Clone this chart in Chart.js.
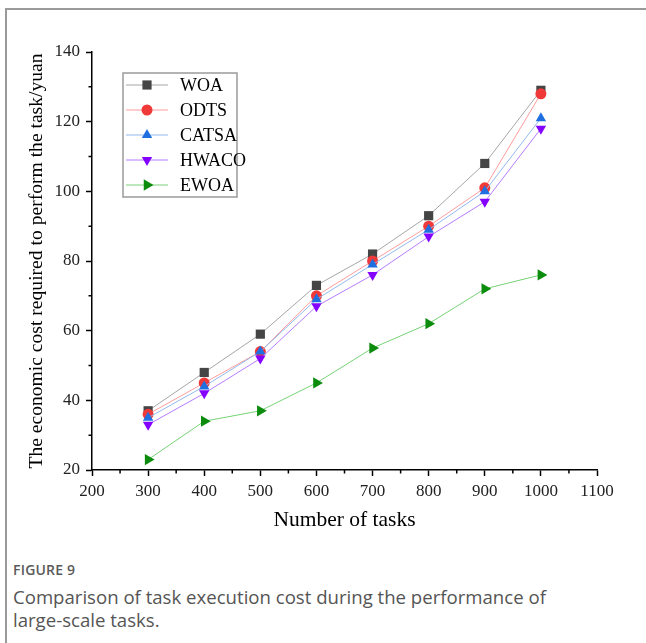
<!DOCTYPE html>
<html>
<head>
<meta charset="utf-8">
<script src="https://cdn.jsdelivr.net/npm/chart.js@4"></script>
<style>
  body { margin: 0; background: #fff; width: 646px; height: 643px; overflow: hidden; position: relative; }
  .frame { position: absolute; left: 5px; top: 8px; width: 660px; height: 660px; border-left: 2px solid #9a9a9a; border-top: 2px solid #9a9a9a; }
  .box { position: absolute; left: 0; top: 0; width: 646px; height: 540px; }
  .cap { position: absolute; left: 13px; top: 560px; font-family: "Open Sans", sans-serif; color: #5a5a5a; }
  .cap .fig { font-size: 14px; font-weight: 600; letter-spacing: 0.2px; margin-bottom: 6px; }
  .cap .txt { font-size: 18.6px; line-height: 23px; color: #555; }
</style>
</head>
<body>
<div class="frame"></div>
<div class="box"><canvas id="myChart"></canvas></div>
<div class="cap">
  <div class="fig">FIGURE 9</div>
  <div class="txt">Comparison of task execution cost during the performance of<br>large-scale tasks.</div>
</div>
<script>
// ข้อมูลจากรูป
const tasks = [300, 400, 500, 600, 700, 800, 900, 1000];
const woa   = [37, 48, 59, 73, 82, 93, 108, 129];
const odts  = [36, 45, 54, 70, 80, 90, 101, 128];
const catsa = [35, 44, 54, 69, 79, 89, 100, 121];
const hwaco = [33, 42, 52, 67, 76, 87, 97, 118];
const ewoa  = [23, 34, 37, 45, 55, 62, 72, 76];
const xTicks = [200, 300, 400, 500, 600, 700, 800, 900, 1000, 1100];
const yTicks = [20, 40, 60, 80, 100, 120, 140];

const serif = "'Liberation Serif', 'Times New Roman', serif";

function pts(vals) {
  return tasks.map((t, i) => ({ x: t, y: vals[i] }));
}

function series(label, vals, line, fill, style, radius, rotation, order) {
  return {
    label: label,
    data: pts(vals),
    borderColor: line,
    borderWidth: 1,
    pointStyle: style,
    pointRadius: radius,
    pointHoverRadius: radius,
    pointRotation: rotation,
    pointBackgroundColor: fill,
    pointBorderColor: fill,
    pointBorderWidth: 0,
    order: order,
    tension: 0
  };
}

// ขีดย่อยบนแกน
const minorTicks = {
  id: 'minorTicks',
  afterDraw(chart) {
    const ctx = chart.ctx;
    const xs = chart.scales.x, ys = chart.scales.y;
    ctx.save();
    ctx.strokeStyle = '#000';
    ctx.lineWidth = 1.5;
    ctx.beginPath();
    for (let i = 0; i < xTicks.length - 1; i++) {
      const px = xs.getPixelForValue((xTicks[i] + xTicks[i + 1]) / 2);
      ctx.moveTo(px, xs.top);
      ctx.lineTo(px, xs.top + 3.5);
    }
    for (let i = 0; i < yTicks.length - 1; i++) {
      const py = ys.getPixelForValue((yTicks[i] + yTicks[i + 1]) / 2);
      ctx.moveTo(ys.right, py);
      ctx.lineTo(ys.right - 3.5, py);
    }
    ctx.stroke();
    ctx.restore();
  }
};

// กล่อง legend ภายในกราฟ
const boxLegend = {
  id: 'boxLegend',
  afterDraw(chart) {
    const ctx = chart.ctx;
    const x0 = 123, y0 = 73, w = 114, h = 124;
    ctx.save();
    ctx.strokeStyle = '#9a9a9a';
    ctx.lineWidth = 1.5;
    ctx.strokeRect(x0, y0, w, h);
    ctx.font = '18px ' + serif;
    ctx.textBaseline = 'middle';
    ctx.textAlign = 'left';
    chart.data.datasets.forEach((ds, i) => {
      const y = y0 + 12 + i * 25;
      ctx.strokeStyle = ds.borderColor;
      ctx.lineWidth = 1;
      ctx.beginPath();
      ctx.moveTo(x0 + 3, y);
      ctx.lineTo(x0 + 45, y);
      ctx.stroke();
      ctx.fillStyle = ds.pointBackgroundColor;
      Chart.helpers.drawPoint(ctx, {
        pointStyle: ds.pointStyle,
        radius: ds.pointRadius,
        rotation: ds.pointRotation,
        borderWidth: 0
      }, x0 + 24, y);
      ctx.fillStyle = '#000';
      ctx.fillText(ds.label, x0 + 57, y + 1);
    });
    ctx.restore();
  }
};

const ctx = document.getElementById('myChart').getContext('2d');
new Chart(ctx, {
  type: 'line',
  data: {
    datasets: [
      series('WOA', woa, '#a6a6a6', '#454545', 'rect', 6.5, 0, 5),
      series('ODTS', odts, '#ff9c9c', '#f03a3a', 'circle', 5.5, 0, 4),
      series('CATSA', catsa, '#93b9ee', '#1f6fe0', 'triangle', 6, 0, 3),
      series('HWACO', hwaco, '#b57cff', '#8400ff', 'triangle', 6, 180, 2),
      series('EWOA', ewoa, '#76d276', '#0c8c0c', 'triangle', 6.5, 90, 1)
    ]
  },
  options: {
    responsive: true,
    maintainAspectRatio: false,
    animation: false,
    layout: { padding: { left: 0, top: 52, right: 49, bottom: 0 } },
    plugins: {
      legend: { display: false },
      tooltip: { enabled: false }
    },
    scales: {
      x: {
        type: 'linear',
        min: 200,
        max: 1100,
        afterFit(scale) { scale.height = 70; },
        afterBuildTicks(scale) { scale.ticks = xTicks.map(v => ({ value: v })); },
        grid: { drawOnChartArea: false, drawTicks: true, tickLength: 6, tickWidth: 1.5, tickColor: '#000' },
        border: { display: true, color: '#000', width: 1.5 },
        ticks: { color: '#222', padding: 5, maxRotation: 0, callback: v => String(v), font: { family: serif, size: 17 } },
        title: { display: true, text: 'Number of tasks', color: '#000', padding: { top: 0, bottom: 7 }, font: { family: serif, size: 21.5 } }
      },
      y: {
        min: 20,
        max: 140,
        afterFit(scale) { scale.width = 92; },
        afterBuildTicks(scale) { scale.ticks = yTicks.map(v => ({ value: v })); },
        grid: { drawOnChartArea: false, drawTicks: true, tickLength: 6, tickWidth: 1.5, tickColor: '#000' },
        border: { display: true, color: '#000', width: 1.5 },
        ticks: { color: '#222', padding: 6, callback: v => String(v), font: { family: serif, size: 17 } },
        title: { display: true, text: 'The economic cost required to perform the task/yuan', color: '#000', padding: { top: 25, bottom: 0 }, font: { family: serif, size: 19.6 } }
      }
    }
  },
  plugins: [minorTicks, boxLegend]
});
</script>
</body>
</html>
